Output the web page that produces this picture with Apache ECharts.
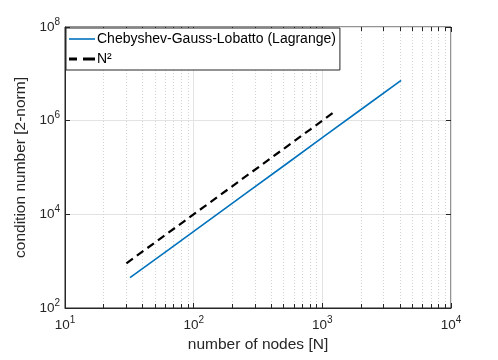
<!DOCTYPE html>
<html>
<head>
<meta charset="utf-8">
<script src="https://cdn.jsdelivr.net/npm/echarts@6/dist/echarts.min.js"></script>
<style>
  html, body { margin: 0; padding: 0; background: #fff; }
  #chart { width: 498px; height: 360px; }
</style>
</head>
<body>
<div id="chart"></div>
<script>
// Chebyshev-Gauss-Lobatto (Lagrange) condition number
var cglN = [32, 64, 128, 256, 512, 1024, 2048, 4096];
var cglCond = [443, 1770, 7090, 28400, 113000, 454000, 1820000, 7260000];
// reference N^2 line
var refN = [30, 60, 120, 240, 480, 1216];
var refCond = [900, 3600, 14400, 57600, 230400, 1480000];
// minor tick values on the x axis
var xMinor = [20, 30, 40, 50, 60, 70, 80, 90,
  200, 300, 400, 500, 600, 700, 800, 900,
  2000, 3000, 4000, 5000, 6000, 7000, 8000, 9000];

var axisColor = '#262626';
var font = 'Liberation Sans, Arial, Helvetica, sans-serif';

function pairs(xs, ys) {
  return xs.map(function (x, i) { return [x, ys[i]]; });
}
function expLabel(v) {
  return '10{sup|' + Math.round(Math.log10(v)) + '}';
}
var richSup = {
  sup: { fontSize: 10, fontFamily: font, color: axisColor, padding: [0, 0, 10, 0] }
};

// short minor tick segments (bottom and top edges)
var tickLen = Math.pow(10, 4 / 46.9);
var minorTicks = [];
xMinor.forEach(function (v) {
  minorTicks.push([{ coord: [v, 100] }, { coord: [v, 100 * tickLen] }]);
  minorTicks.push([{ coord: [v, 1e8 / tickLen] }, { coord: [v, 1e8] }]);
});

var chart = echarts.init(document.getElementById('chart'));
chart.setOption({
  animation: false,
  textStyle: { fontFamily: font },
  grid: {
    left: 65, right: 47, top: 27, bottom: 52,
    show: true, borderColor: axisColor, borderWidth: 1
  },
  legend: {
    orient: 'vertical',
    left: 66, top: 28,
    padding: [4, 4, 4, 3],
    itemGap: 6,
    itemWidth: 26,
    itemHeight: 14,
    backgroundColor: '#fff',
    borderColor: axisColor,
    borderWidth: 1,
    z: 10,
    textStyle: { fontSize: 14, color: '#000', fontFamily: font, padding: [0, 0, 0, -3] },
    data: [
      { name: 'Chebyshev-Gauss-Lobatto (Lagrange)', icon: 'path://M0,0 L26,0 L26,1.6 L0,1.6 Z' },
      { name: 'N²', icon: 'path://M0,0 L8,0 L8,3 L0,3 Z M14,0 L26,0 L26,3 L14,3 Z' }
    ]
  },
  xAxis: [{
    type: 'log', logBase: 10, min: 10, max: 10000,
    name: 'number of nodes [N]',
    nameLocation: 'middle', nameGap: 25,
    nameTextStyle: { fontSize: 15.5, color: axisColor, fontFamily: font },
    axisLine: { show: true, onZero: false, lineStyle: { color: axisColor } },
    axisTick: { show: true, inside: true, length: 5, lineStyle: { color: axisColor } },
    axisLabel: { formatter: expLabel, fontSize: 13.5, color: axisColor, fontFamily: font, margin: 7, rich: richSup },
    splitLine: { show: true, lineStyle: { color: '#e3e3e3', width: 1 } }
  }, {
    type: 'log', logBase: 10, min: 10, max: 10000, position: 'top',
    axisLine: { show: false },
    axisTick: { show: true, inside: true, length: 5, lineStyle: { color: axisColor } },
    axisLabel: { show: false },
    splitLine: { show: false }
  }],
  yAxis: [{
    type: 'log', logBase: 10, min: 100, max: 1e8, interval: 2,
    name: 'condition number [2-norm]',
    nameLocation: 'middle', nameGap: 35,
    nameTextStyle: { fontSize: 15.5, color: axisColor, fontFamily: font },
    axisLine: { show: true, onZero: false, lineStyle: { color: axisColor } },
    axisTick: { show: true, inside: true, length: 5, lineStyle: { color: axisColor } },
    axisLabel: { formatter: expLabel, fontSize: 13.5, color: axisColor, fontFamily: font, margin: 5, rich: richSup },
    splitLine: { show: true, lineStyle: { color: '#e3e3e3', width: 1 } }
  }, {
    type: 'log', logBase: 10, min: 100, max: 1e8, interval: 2, position: 'right',
    axisLine: { show: false },
    axisTick: { show: true, inside: true, length: 5, lineStyle: { color: axisColor } },
    axisLabel: { show: false },
    splitLine: { show: false }
  }],
  series: [{
    name: 'minor',
    type: 'line',
    data: [],
    z: 1,
    silent: true,
    markLine: {
      z: 1,
      silent: true,
      symbol: 'none',
      label: { show: false },
      animation: false,
      lineStyle: { color: '#d2d2d2', type: [1, 2], width: 1 },
      data: xMinor.map(function (v) { return { xAxis: v }; })
    }
  }, {
    name: 'ticks',
    type: 'line',
    data: [],
    z: 3,
    silent: true,
    markLine: {
      z: 3,
      silent: true,
      symbol: 'none',
      label: { show: false },
      animation: false,
      lineStyle: { color: axisColor, type: 'solid', width: 1 },
      data: minorTicks
    }
  }, {
    name: 'Chebyshev-Gauss-Lobatto (Lagrange)',
    type: 'line',
    z: 2,
    data: pairs(cglN, cglCond),
    showSymbol: false,
    color: '#0072BD',
    lineStyle: { color: '#0072BD', width: 1.6 }
  }, {
    name: 'N²',
    type: 'line',
    z: 2,
    data: pairs(refN, refCond),
    showSymbol: false,
    color: '#000',
    lineStyle: { color: '#000', width: 2.2, type: [8, 5] }
  }]
});
</script>
</body>
</html>
